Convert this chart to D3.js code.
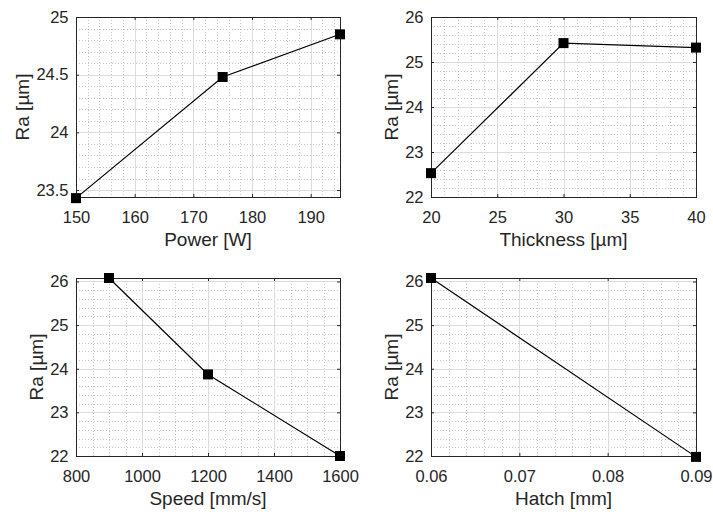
<!DOCTYPE html>
<html>
<head>
<meta charset="utf-8">
<script src="https://cdn.jsdelivr.net/npm/d3@7/dist/d3.min.js"></script>
<style>
  body { margin: 0; background: #fff; }
  svg text { font-family: "Liberation Sans", Arial, sans-serif; fill: #262626; }
</style>
</head>
<body>
<div id="graph"></div>
<script>
// data
var powerX = [150, 175, 195],
    powerRa = [23.43, 24.48, 24.85];
var thickX = [20, 30, 40],
    thickRa = [22.53, 25.42, 25.32];
var speedX = [900, 1200, 1600],
    speedRa = [26.08, 23.87, 22.0];
var hatchX = [0.06, 0.09],
    hatchRa = [26.08, 21.98];

// tick labels / limits
var powerTicks = [150, 160, 170, 180, 190],
    thickTicks = [20, 25, 30, 35, 40],
    speedTicks = [800, 1000, 1200, 1400, 1600],
    hatchTicks = [0.06, 0.07, 0.08, 0.09];
var raTicksA = [23.5, 24, 24.5, 25],
    raTicksB = [22, 23, 24, 25, 26];

var panels = [
  { box: [76, 17, 340, 197], xs: powerX, ys: powerRa, xdom: [150, 195], ydom: [23.44, 25],
    xt: powerTicks, yt: raTicksA, xminor: 2, yminor: 0.1, xfmt: d3.format("d"), yfmt: function(d) { return d3.format("")(d); },
    xlabel: "Power [W]" },
  { box: [431, 17, 696, 197], xs: thickX, ys: thickRa, xdom: [20, 40], ydom: [22, 26],
    xt: thickTicks, yt: raTicksB, xminor: 1, yminor: 0.2, xfmt: d3.format("d"), yfmt: d3.format("d"),
    xlabel: "Thickness [\u00b5m]" },
  { box: [76, 278, 340, 456], xs: speedX, ys: speedRa, xdom: [800, 1600], ydom: [22, 26.08],
    xt: speedTicks, yt: raTicksB, xminor: 50, yminor: 0.2, xfmt: d3.format("d"), yfmt: d3.format("d"),
    xlabel: "Speed [mm/s]" },
  { box: [431, 278, 696, 456], xs: hatchX, ys: hatchRa, xdom: [0.06, 0.09], ydom: [22, 26.08],
    xt: hatchTicks, yt: raTicksB, xminor: 0.002, yminor: 0.2, xfmt: d3.format(".2f"), yfmt: d3.format("d"),
    xlabel: "Hatch [mm]" }
];

var svg = d3.select("#graph").append("svg")
    .attr("width", 713)
    .attr("height", 512);

function minorVals(dom, step) {
  var out = [];
  var n = Math.round((dom[1] - dom[0]) / step) + 2;
  var start = Math.ceil(dom[0] / step - 1e-6);
  for (var i = 0; i < n; i++) {
    var v = (start + i) * step;
    if (v > dom[1] + step * 1e-6) break;
    out.push(+v.toFixed(6));
  }
  return out;
}

panels.forEach(function(p) {
  var x0 = p.box[0], y0 = p.box[1], x1 = p.box[2], y1 = p.box[3];
  var x = d3.scaleLinear().domain(p.xdom).range([x0, x1]);
  var y = d3.scaleLinear().domain(p.ydom).range([y1, y0]);

  var g = svg.append("g");

  // minor grid (dotted)
  g.append("g").selectAll("line.mx")
    .data(minorVals(p.xdom, p.xminor))
    .enter().append("line")
      .attr("x1", function(d) { return Math.round(x(d)) + 0.5; })
      .attr("x2", function(d) { return Math.round(x(d)) + 0.5; })
      .attr("y1", y0).attr("y2", y1)
      .attr("stroke", "#c8c8c8").attr("stroke-dasharray", "1,2");
  g.append("g").selectAll("line.my")
    .data(minorVals(p.ydom, p.yminor))
    .enter().append("line")
      .attr("y1", function(d) { return Math.round(y(d)) + 0.5; })
      .attr("y2", function(d) { return Math.round(y(d)) + 0.5; })
      .attr("x1", x0).attr("x2", x1)
      .attr("stroke", "#c8c8c8").attr("stroke-dasharray", "1,2");

  // major grid
  g.append("g").selectAll("line")
    .data(p.xt)
    .enter().append("line")
      .attr("x1", function(d) { return Math.round(x(d)) + 0.5; })
      .attr("x2", function(d) { return Math.round(x(d)) + 0.5; })
      .attr("y1", y0).attr("y2", y1)
      .attr("stroke", "#dcdcdc");
  g.append("g").selectAll("line")
    .data(p.yt)
    .enter().append("line")
      .attr("y1", function(d) { return Math.round(y(d)) + 0.5; })
      .attr("y2", function(d) { return Math.round(y(d)) + 0.5; })
      .attr("x1", x0).attr("x2", x1)
      .attr("stroke", "#dcdcdc");

  // axes (ticks inside)
  var bottom = g.append("g").attr("transform", "translate(0," + y1 + ")")
    .call(d3.axisBottom(x).tickValues(p.xt).tickFormat(p.xfmt).tickSizeInner(-3).tickSizeOuter(0).tickPadding(14));
  var left = g.append("g").attr("transform", "translate(" + x0 + ",0)")
    .call(d3.axisLeft(y).tickValues(p.yt).tickFormat(p.yfmt).tickSizeInner(-3).tickSizeOuter(0).tickPadding(7.5));
  g.append("g").attr("transform", "translate(0," + y0 + ")")
    .call(d3.axisTop(x).tickValues(p.xt).tickFormat("").tickSizeInner(-3).tickSizeOuter(0));
  g.append("g").attr("transform", "translate(" + x1 + ",0)")
    .call(d3.axisRight(y).tickValues(p.yt).tickFormat("").tickSizeInner(-3).tickSizeOuter(0));

  g.selectAll(".domain").remove();
  g.selectAll(".tick line").attr("stroke", "#262626");
  g.selectAll(".tick text").attr("font-size", 16.5).attr("fill", "#262626")
    .attr("font-family", "Liberation Sans, Arial, sans-serif");

  // box
  g.append("rect")
    .attr("x", x0 + 0.5).attr("y", y0 + 0.5)
    .attr("width", x1 - x0).attr("height", y1 - y0)
    .attr("fill", "none").attr("stroke", "#262626").attr("stroke-width", 1);

  // labels
  var maxW = 0;
  left.selectAll(".tick text").each(function() {
    maxW = Math.max(maxW, this.getComputedTextLength());
  });
  g.append("text")
    .attr("transform", "translate(" + (x0 - 7.5 - maxW - 14) + "," + ((y0 + y1) / 2) + ") rotate(-90)")
    .attr("text-anchor", "middle")
    .attr("dy", "0.35em")
    .attr("font-size", 19)
    .text("Ra [\u00b5m]");
  g.append("text")
    .attr("x", (x0 + x1) / 2)
    .attr("y", y1 + 49)
    .attr("text-anchor", "middle")
    .attr("font-size", 19)
    .text(p.xlabel);

  // data line + square markers
  var pts = p.xs.map(function(d, i) { return [d, p.ys[i]]; });
  g.append("path")
    .datum(pts)
    .attr("fill", "none")
    .attr("stroke", "#000")
    .attr("stroke-width", 1.2)
    .attr("d", d3.line().x(function(d) { return x(d[0]); }).y(function(d) { return y(d[1]); }));
  g.append("g").selectAll("rect")
    .data(pts)
    .enter().append("rect")
      .attr("x", function(d) { return x(d[0]) - 5; })
      .attr("y", function(d) { return y(d[1]) - 5; })
      .attr("width", 10).attr("height", 10)
      .attr("fill", "#000");
});
</script>
</body>
</html>
